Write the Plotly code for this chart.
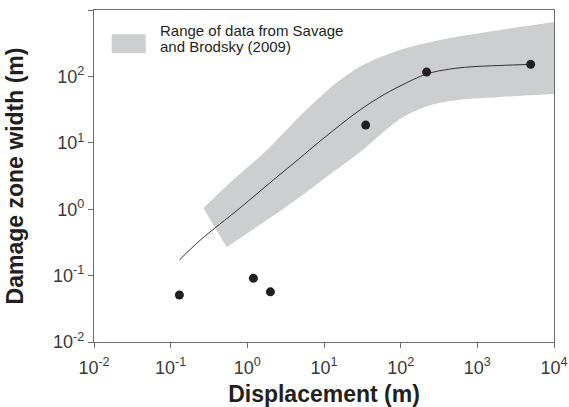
import plotly.graph_objects as go

# Band (range of data from Savage and Brodsky 2009): upper and lower edges
band_upper_x = [0.267, 0.65, 1.80, 4.86, 8.87, 16.2, 32.3, 89.5, 326, 1337, 10000]
band_upper_y = [1.04, 2.75, 7.8, 25.4, 49, 88, 148, 242, 353, 467, 659]
band_lower_x = [0.538, 1.80, 4.86, 13.1, 29.4, 53.7, 98, 207, 440, 1972, 10000]
band_lower_y = [0.27, 0.687, 1.53, 3.63, 7.2, 13.1, 22.8, 34.6, 42.7, 49, 54.3]

# Fitted curve
curve_x = [0.13, 0.242, 0.80, 2.18, 4.86, 8.87, 16.2, 29.4, 53.7, 98, 220, 440, 802, 1972, 4955]
curve_y = [0.172, 0.34, 1.04, 2.75, 5.9, 10.6, 18.5, 31.2, 49, 71.6, 109, 129, 139, 146, 152]

# Observed points
pts_x = [0.13, 1.2, 2.0, 35, 218, 4960]
pts_y = [0.051, 0.091, 0.057, 18.5, 116, 152]

# Axis ticks
x_tickvals = [0.01, 0.1, 1, 10, 100, 1000, 10000]
x_ticktext = ["10<sup>-2</sup>", "10<sup>-1</sup>", "10<sup>0</sup>", "10<sup>1</sup>",
              "10<sup>2</sup>", "10<sup>3</sup>", "10<sup>4</sup>"]
y_tickvals = [0.01, 0.1, 1, 10, 100, 1000]
y_ticktext = ["10<sup>-2</sup>", "10<sup>-1</sup>", "10<sup>0</sup>", "10<sup>1</sup>",
              "10<sup>2</sup>", "10<sup>3</sup>"]

legend_lines = ["Range of data from Savage", "and Brodsky (2009)"]

FONT = "Liberation Sans, Arial"
BAND = "#cdcecf"

fig = go.Figure()
fig.add_trace(go.Scatter(x=band_lower_x, y=band_lower_y, mode="lines",
                         line=dict(width=0, color=BAND, shape="spline", smoothing=1),
                         hoverinfo="skip", showlegend=False))
fig.add_trace(go.Scatter(x=band_upper_x, y=band_upper_y, mode="lines", fill="tonexty",
                         fillcolor=BAND,
                         line=dict(width=0, color=BAND, shape="spline", smoothing=1),
                         hoverinfo="skip", showlegend=False))
fig.add_trace(go.Scatter(x=curve_x, y=curve_y, mode="lines",
                         line=dict(color="#333333", width=1, shape="spline", smoothing=1),
                         showlegend=False))
fig.add_trace(go.Scatter(x=pts_x, y=pts_y, mode="markers",
                         marker=dict(color="#231f20", size=9),
                         showlegend=False))

axis_common = dict(type="log", showgrid=False, zeroline=False, showline=True,
                   linecolor="#6d6d6d", linewidth=1.3, mirror=True, automargin=False,
                   ticks="outside", ticklen=5, tickcolor="#6d6d6d", tickwidth=1.3,
                   tickfont=dict(family=FONT, size=18, color="#3a3a3a"))

fig.update_xaxes(range=[-2, 4], tickvals=x_tickvals, ticktext=x_ticktext,
                 ticklabelstandoff=4,
                 title=dict(text="<b>Displacement (m)</b>", standoff=12,
                            font=dict(family=FONT, size=23, color="#231f20")),
                 **axis_common)
fig.update_yaxes(range=[-2, 3], tickvals=y_tickvals, ticktext=y_ticktext,
                 title=dict(text="<b>Damage zone width (m)</b>", standoff=22,
                            font=dict(family=FONT, size=23, color="#231f20")),
                 **axis_common)

# Legend entry
fig.add_shape(type="rect", xref="paper", yref="paper",
              x0=0.0385, x1=0.1124, y0=0.8696, y1=0.9268,
              fillcolor=BAND, line=dict(width=0))
fig.add_annotation(xref="paper", yref="paper", x=0.139, y=0.9396, xanchor="left", yanchor="middle",
                   text=legend_lines[0], showarrow=False,
                   font=dict(family=FONT, size=15, color="#231f20"))
fig.add_annotation(xref="paper", yref="paper", x=0.139, y=0.8896, xanchor="left", yanchor="middle",
                   text=legend_lines[1], showarrow=False,
                   font=dict(family=FONT, size=15, color="#231f20"))

fig.update_layout(width=569, height=407, margin=dict(l=94, r=15, t=10, b=65),
                  paper_bgcolor="white", plot_bgcolor="white", showlegend=False)

fig.write_html("out.html")
